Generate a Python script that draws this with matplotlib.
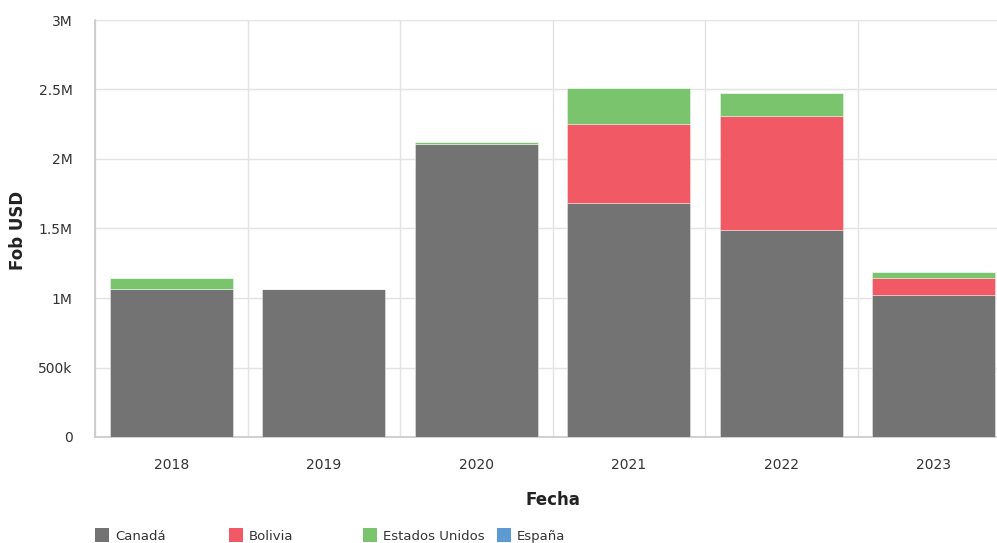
import matplotlib
matplotlib.use("Agg")
import matplotlib.pyplot as plt
from matplotlib.patches import Rectangle
from matplotlib.ticker import FuncFormatter, MultipleLocator
import numpy as np

years = ["2018", "2019", "2020", "2021", "2022", "2023"]
canada = [1063000, 1063000, 2110000, 1681000, 1489000, 1024000]
bolivia = [0, 0, 0, 569000, 820000, 120000]
estados_unidos = [79000, 0, 12000, 259000, 168000, 41000]
espana = [0, 0, 0, 0, 0, 0]

series_names = ["Canadá", "Bolivia", "Estados Unidos", "España"]
series_values = [canada, bolivia, estados_unidos, espana]
series_colors = ["#737373", "#f15a64", "#79c46d", "#5b9bd1"]

plt.rcParams["font.family"] = ["DejaVu Sans"]

fig = plt.figure(figsize=(9.97, 5.43), dpi=100)
# plot area runs slightly past the right edge of the canvas
ax = fig.add_axes([95 / 997, 106 / 543, 915 / 997, 417 / 543])

x = np.arange(len(years))
bottom = np.zeros(len(years))
for name, vals, col in zip(series_names, series_values, series_colors):
    vals = np.array(vals, dtype=float)
    ax.bar(x, vals, width=0.806, bottom=bottom, color=col,
           edgecolor=(1, 1, 1, 0.45), linewidth=0.6, zorder=3)
    bottom += vals

ax.set_xlim(-0.5, len(years) - 0.5)
ax.set_ylim(0, 3000000)
ax.yaxis.set_major_locator(MultipleLocator(500000))


def fmt(v, _):
    if v == 0:
        return "0"
    if v >= 1000000:
        return f"{v / 1e6:g}M"
    return f"{v / 1e3:g}k"


ax.yaxis.set_major_formatter(FuncFormatter(fmt))
ax.set_xticks(x)
ax.set_xticklabels(years)
ax.set_xticks(np.arange(-0.5, len(years), 1.0), minor=True)

ax.grid(axis="y", which="major", color="#e3e3e3", linewidth=1, zorder=0)
ax.grid(axis="x", which="minor", color="#e3e3e3", linewidth=1, zorder=0)
ax.tick_params(axis="both", which="both", length=0, labelsize=10,
               colors="#333333", labelfontfamily="DejaVu Sans")
ax.tick_params(axis="x", pad=15)
ax.tick_params(axis="y", pad=16)

for side in ["top", "right"]:
    ax.spines[side].set_visible(False)
for side in ["left", "bottom"]:
    ax.spines[side].set_color("#c8c8c8")
    ax.spines[side].set_linewidth(1.2)

ax.set_xlabel("Fecha", fontsize=12, fontweight="bold", color="#222222",
              labelpad=14, family="DejaVu Sans")
fig.text(18 / 997, 1 - 230 / 543, "Fob USD", rotation=90, ha="center",
         va="center", fontsize=12, fontweight="bold", color="#222222",
         family="DejaVu Sans")

# legend row along the bottom edge
for i, (name, col) in enumerate(zip(series_names, series_colors)):
    x0 = (95 + i * 134) / 997
    fig.patches.append(Rectangle((x0, 1 / 543), 14 / 997, 14 / 543,
                                 transform=fig.transFigure, facecolor=col,
                                 edgecolor="none"))
    fig.text(x0 + 20 / 997, 3 / 543, name, fontsize=9.5, color="#333333",
             va="baseline", ha="left", family="DejaVu Sans")

fig.savefig("out.png", dpi=100)
